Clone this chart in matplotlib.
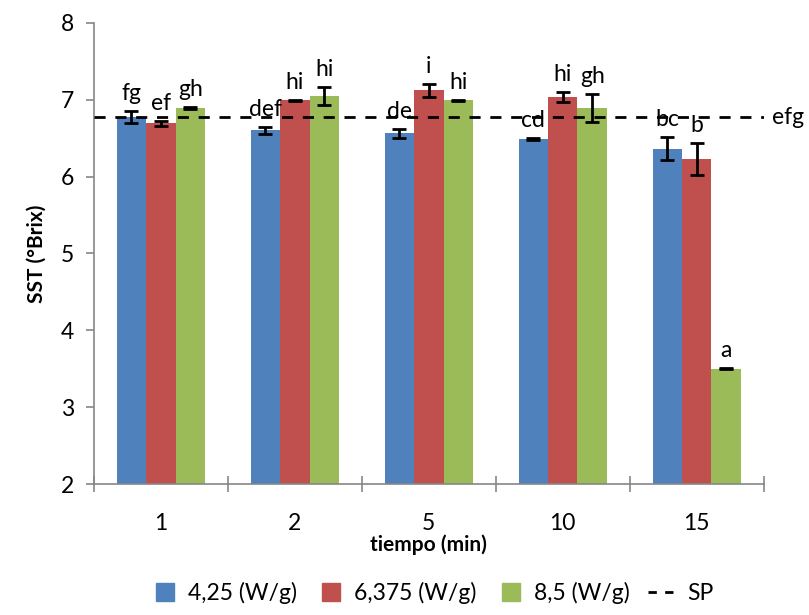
import numpy as np
import matplotlib.pyplot as plt
from matplotlib.lines import Line2D

plt.rcParams['font.family'] = ['Lato', 'DejaVu Sans']

tiempos = ['1', '2', '5', '10', '15']
series = ['4,25 (W/g)', '6,375 (W/g)', '8,5 (W/g)']
colores = ['#4f81bd', '#c0504d', '#9bbb59']

sst_425 = [6.77, 6.60, 6.56, 6.49, 6.36]
sst_6375 = [6.69, 6.99, 7.12, 7.03, 6.23]
sst_85 = [6.89, 7.05, 6.99, 6.89, 3.50]
err_425 = [0.08, 0.05, 0.06, 0.01, 0.15]
err_6375 = [0.03, 0.01, 0.08, 0.065, 0.21]
err_85 = [0.01, 0.12, 0.01, 0.18, 0.01]
letras_425 = ['fg', 'def', 'de', 'cd', 'bc']
letras_6375 = ['ef', 'hi', 'i', 'hi', 'b']
letras_85 = ['gh', 'hi', 'hi', 'gh', 'a']
sp = 6.77
sp_letra = 'efg'

valores = [sst_425, sst_6375, sst_85]
errores = [err_425, err_6375, err_85]
letras = [letras_425, letras_6375, letras_85]

fig = plt.figure(figsize=(8.09, 6.15), dpi=100)
ax = fig.add_axes([0.116, 0.213, 0.828, 0.750])

x = np.arange(len(tiempos))
ancho = 0.22
for i in range(3):
    pos = x + (i - 1) * ancho
    ax.bar(pos, valores[i], ancho, color=colores[i], zorder=2)
    ax.errorbar(pos, valores[i], yerr=errores[i], fmt='none', ecolor='black',
                elinewidth=2, capsize=5, capthick=2, zorder=3)
    for p, v, e, l in zip(pos, valores[i], errores[i], letras[i]):
        ax.annotate(l, (p, v + e), xytext=(0, 5), textcoords='offset points',
                    ha='center', va='bottom', fontsize=16.5, zorder=4)

ax.axhline(sp, color='black', linestyle=(0, (4, 3.5)), linewidth=2, zorder=4)
ax.text(len(tiempos) - 0.5 + 0.06, sp, sp_letra, fontsize=16.5, va='center',
        ha='left', clip_on=False)

ax.set_xlim(-0.5, len(tiempos) - 0.5)
ax.set_ylim(2, 8)
ax.set_yticks(np.arange(2, 9, 1))
ax.set_xticks(x)
ax.set_xticklabels(tiempos)
ax.set_xticks(np.arange(-0.5, len(tiempos), 1), minor=True)
ax.tick_params(axis='x', which='major', length=0, pad=21, labelsize=16.5)
ax.tick_params(axis='x', which='minor', length=12, direction='inout', color='#868686', width=1.2)
ax.tick_params(axis='y', length=6, direction='out', color='#868686', width=1.2, labelsize=16.5, pad=8)

for lado in ['top', 'right']:
    ax.spines[lado].set_visible(False)
for lado in ['left', 'bottom']:
    ax.spines[lado].set_color('#868686')
    ax.spines[lado].set_linewidth(1.2)

ax.set_xlabel('tiempo (min)', fontsize=15, fontweight='bold', labelpad=0)
ax.set_ylabel('SST (°Brix)', fontsize=15, fontweight='bold', labelpad=10)

handles = [Line2D([0], [0], marker='s', markersize=13, color=c, linestyle='none')
           for c in colores]
handles.append(Line2D([0], [0], color='black', linestyle=(0, (3, 3)), linewidth=2))
fig.legend(handles, series + ['SP'], loc='lower center', bbox_to_anchor=(0.533, -0.015),
           ncol=4, frameon=False, fontsize=16.5, handlelength=1.4,
           handletextpad=0.3, columnspacing=0.8)

fig.savefig('out.png', dpi=100)
